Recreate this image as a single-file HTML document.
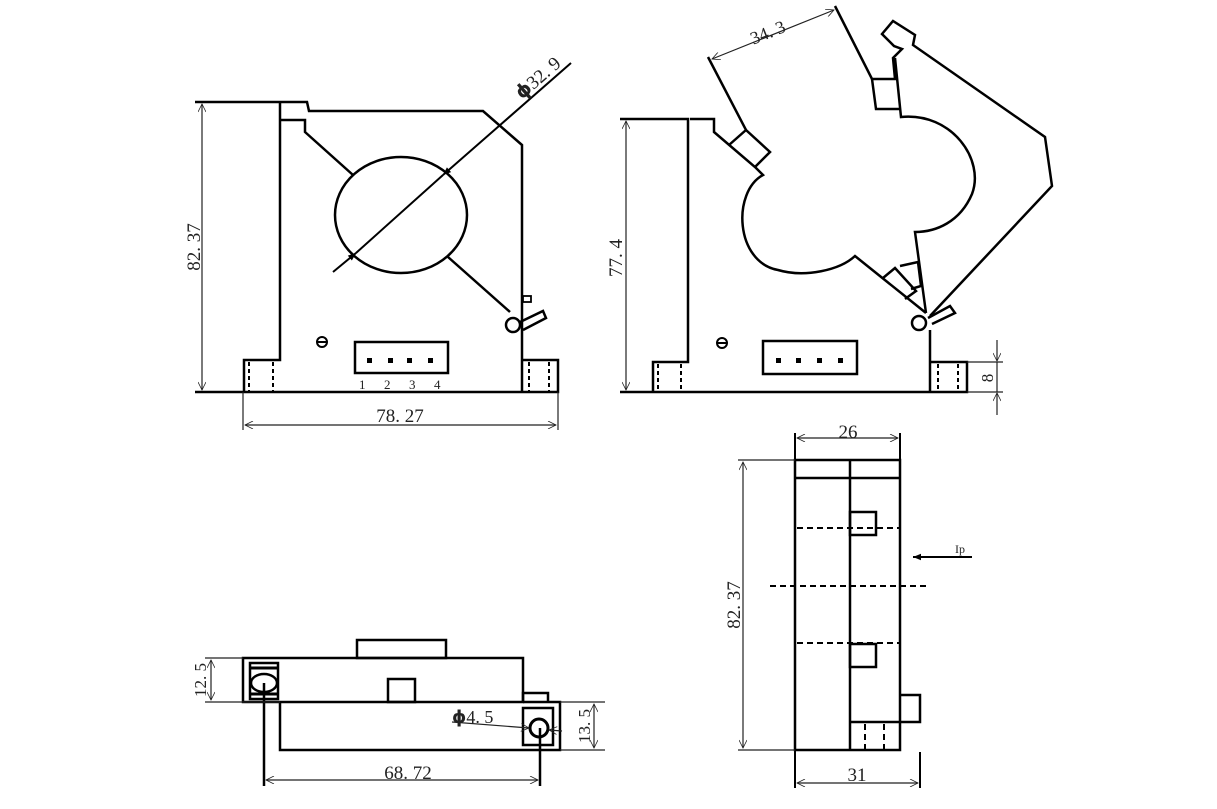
<!DOCTYPE html>
<html><head><meta charset="utf-8"><style>
html,body{margin:0;padding:0;background:#fff}
svg{display:block}
text{font-family:"Liberation Serif","DejaVu Serif",serif;fill:#222}
</style></head><body>
<svg width="1217" height="809" viewBox="0 0 1217 809" xmlns="http://www.w3.org/2000/svg">
<defs>
<marker id="a" viewBox="0 0 10 10" refX="10" refY="5" markerWidth="10" markerHeight="8" orient="auto-start-reverse" markerUnits="userSpaceOnUse">
<path d="M0,0 L10,5 L0,10" fill="none" stroke="#222" stroke-width="1"/></marker>
<marker id="f" viewBox="0 0 10 10" refX="10" refY="5" markerWidth="12" markerHeight="8" orient="auto" markerUnits="userSpaceOnUse">
<path d="M0,1 L10,5 L0,9z" fill="#000"/></marker>
</defs>

<!-- ===== VIEW 1 ===== -->
<g fill="none" stroke="#000" stroke-width="2.5" stroke-linejoin="miter">
<path d="M195,102 H307 L309,111 H483 L522,145 V392"/>
<path d="M280,102 V360 H244 V392"/>
<path d="M195,392 H558 V360 H522"/>
<path d="M280,120 H305 V132 L353,175"/>
<ellipse cx="401" cy="215" rx="66" ry="58"/>
<path d="M448,257 L510,312"/>
<circle cx="513" cy="325" r="7"/>
<path d="M520,322 L543,311 L546,318 L523,330"/>
<rect x="523" y="296" width="8" height="6" stroke-width="1.8"/>
<rect x="355" y="342" width="93" height="31"/>
<circle cx="322" cy="342" r="5" stroke-width="2"/>
</g>
<line x1="317" y1="342" x2="327" y2="342" stroke="#000" stroke-width="2"/>
<g fill="#000"><rect x="367" y="358" width="5" height="5"/><rect x="388" y="358" width="5" height="5"/><rect x="407" y="358" width="5" height="5"/><rect x="428" y="358" width="5" height="5"/></g>
<g stroke="#000" stroke-width="2" stroke-dasharray="4,3"><line x1="249" y1="362" x2="249" y2="392"/><line x1="273" y1="362" x2="273" y2="392"/><line x1="529" y1="362" x2="529" y2="392"/><line x1="549" y1="362" x2="549" y2="392"/></g>
<g font-size="13"><text x="359" y="389">1</text><text x="384" y="389">2</text><text x="409" y="389">3</text><text x="434" y="389">4</text></g>
<!-- dims view1 -->
<g stroke="#222" stroke-width="1.2" fill="none">
<line x1="202" y1="104" x2="202" y2="390" marker-start="url(#a)" marker-end="url(#a)"/>
<line x1="243" y1="392" x2="243" y2="430"/><line x1="558" y1="392" x2="558" y2="430"/>
<line x1="245" y1="425" x2="556" y2="425" marker-start="url(#a)" marker-end="url(#a)"/>
</g>
<line x1="571" y1="63" x2="443" y2="175" stroke="#000" stroke-width="2" marker-end="url(#f)"/>
<line x1="333" y1="272" x2="356" y2="253" stroke="#000" stroke-width="2" marker-end="url(#f)"/>
<line x1="443" y1="175" x2="356" y2="253" stroke="#000" stroke-width="2"/>
<text x="0" y="0" font-size="19" transform="translate(200,247) rotate(-90)" text-anchor="middle">82. 37</text>
<text x="400" y="422" font-size="19" text-anchor="middle">78. 27</text>
<text x="0" y="0" font-size="19" transform="translate(522,100) rotate(-41)"><tspan font-family="DejaVu Sans" font-weight="bold">ϕ</tspan>32. 9</text>

<!-- ===== VIEW 2 ===== -->
<g fill="none" stroke="#000" stroke-width="2.5" stroke-linejoin="miter">
<path d="M620,119 H688 V362 H653 V392"/>
<path d="M620,392 H967 V362 H930"/>
<path d="M690,119 H714 V132 L755,167 L763,175 C732,192 735,262 778,270 C805,278 840,270 855,256 L926,313"/>
<path d="M708,57 L746,130 L770,152 L755,167"/>
<path d="M729,145 L746,130"/>
<path d="M835,6 L872,79 H895 L893,58 L902,49 L894,46 L882,34 L893,21 L915,35 L913,45 L1045,137 L1052,186 L930,316"/>
<path d="M872,79 L876,109 H899"/>
<path d="M895,58 L901,117 C952,112 985,160 972,194 C960,222 936,232 915,232 L926,313"/>
<path d="M883,278 L895,268 L916,291 L905,299"/>
<path d="M900,266 L918,262 L921,286 L911,289"/>
<circle cx="919" cy="323" r="7"/>
<path d="M928,318 L950,306 L955,313 L932,324"/>
<path d="M930,330 V392"/>
<rect x="763" y="341" width="94" height="33"/>
<circle cx="722" cy="343" r="5" stroke-width="2"/>
</g>
<line x1="717" y1="343" x2="727" y2="343" stroke="#000" stroke-width="2"/>
<g fill="#000"><rect x="776" y="358" width="5" height="5"/><rect x="796" y="358" width="5" height="5"/><rect x="817" y="358" width="5" height="5"/><rect x="838" y="358" width="5" height="5"/></g>
<g stroke="#000" stroke-width="2" stroke-dasharray="4,3"><line x1="658" y1="364" x2="658" y2="392"/><line x1="681" y1="364" x2="681" y2="392"/><line x1="938" y1="364" x2="938" y2="392"/><line x1="958" y1="364" x2="958" y2="392"/></g>
<g stroke="#222" stroke-width="1.2" fill="none">
<line x1="626" y1="121" x2="626" y2="390" marker-start="url(#a)" marker-end="url(#a)"/>
<line x1="967" y1="362" x2="1003" y2="362"/><line x1="967" y1="392" x2="1003" y2="392"/>
<line x1="997" y1="340" x2="997" y2="361" marker-end="url(#a)"/>
<line x1="997" y1="415" x2="997" y2="393" marker-end="url(#a)"/>
<line x1="997" y1="362" x2="997" y2="392"/>
<line x1="712" y1="59" x2="834" y2="10" marker-start="url(#a)" marker-end="url(#a)"/>
</g>
<text x="0" y="0" font-size="19" transform="translate(622,258) rotate(-90)" text-anchor="middle">77. 4</text>
<text x="0" y="0" font-size="17" transform="translate(993,378) rotate(-90)" text-anchor="middle">8</text>
<text x="0" y="0" font-size="18" transform="translate(770,38) rotate(-22)" text-anchor="middle">34. 3</text>

<!-- ===== VIEW 3 (bottom) ===== -->
<g fill="none" stroke="#000" stroke-width="2.5">
<rect x="243" y="658" width="280" height="44"/>
<rect x="357" y="640" width="89" height="18"/>
<rect x="388" y="679" width="27" height="23"/>
<path d="M280,702 V750 H560 V702 H523"/>
<path d="M523,702 V693 H548 V702"/>
<rect x="250" y="663" width="28" height="36"/>
<ellipse cx="264" cy="683" rx="13" ry="9"/>
<rect x="523" y="708" width="30" height="37"/>
<circle cx="539" cy="728" r="9" stroke-width="3"/>
<line x1="264" y1="683" x2="264" y2="786"/>
<line x1="540" y1="728" x2="540" y2="786"/>
</g>
<path d="M251,668 H278 M251,694 H278" stroke="#000" stroke-width="3"/>
<g stroke="#222" stroke-width="1.2" fill="none">
<line x1="266" y1="780" x2="538" y2="780" marker-start="url(#a)" marker-end="url(#a)"/>
<line x1="205" y1="658" x2="243" y2="658"/><line x1="205" y1="702" x2="280" y2="702"/>
<line x1="211" y1="660" x2="211" y2="700" marker-start="url(#a)" marker-end="url(#a)"/>
<line x1="560" y1="702" x2="605" y2="702"/><line x1="560" y1="750" x2="605" y2="750"/>
<line x1="594" y1="704" x2="594" y2="748" marker-start="url(#a)" marker-end="url(#a)"/>
<line x1="452" y1="722" x2="529" y2="728" marker-end="url(#a)"/>
<line x1="562" y1="731" x2="549" y2="730" marker-end="url(#a)"/>
</g>
<text x="408" y="779" font-size="19" text-anchor="middle">68. 72</text>
<text x="0" y="0" font-size="17" transform="translate(206,680) rotate(-90)" text-anchor="middle">12. 5</text>
<text x="0" y="0" font-size="17" transform="translate(590,726) rotate(-90)" text-anchor="middle">13. 5</text>
<text x="452" y="723" font-size="18"><tspan font-family="DejaVu Sans" font-weight="bold">ϕ</tspan>4. 5</text>

<!-- ===== VIEW 4 (side) ===== -->
<g fill="none" stroke="#000" stroke-width="2.5">
<rect x="795" y="460" width="105" height="290"/>
<line x1="795" y1="478" x2="900" y2="478"/>
<line x1="850" y1="460" x2="850" y2="750"/>
<rect x="850" y="512" width="26" height="23"/>
<rect x="850" y="644" width="26" height="23"/>
<path d="M900,695 H920 V722 H900"/>
<line x1="850" y1="722" x2="900" y2="722"/>
<line x1="795" y1="433" x2="795" y2="460" stroke-width="2"/>
<line x1="900" y1="433" x2="900" y2="460" stroke-width="2"/>
<line x1="795" y1="750" x2="795" y2="788" stroke-width="2"/>
<line x1="920" y1="752" x2="920" y2="788" stroke-width="2"/>
</g>
<g stroke="#000" stroke-width="2" stroke-dasharray="6,4">
<line x1="797" y1="528" x2="900" y2="528"/>
<line x1="797" y1="643" x2="900" y2="643"/>
<line x1="770" y1="586" x2="926" y2="586"/>
<line x1="865" y1="724" x2="865" y2="750"/>
<line x1="884" y1="724" x2="884" y2="750"/>
</g>
<g stroke="#222" stroke-width="1.2" fill="none">
<line x1="797" y1="438" x2="898" y2="438" marker-start="url(#a)" marker-end="url(#a)"/>
<line x1="797" y1="783" x2="918" y2="783" marker-start="url(#a)" marker-end="url(#a)"/>
<line x1="738" y1="460" x2="795" y2="460"/><line x1="738" y1="750" x2="795" y2="750"/>
<line x1="743" y1="462" x2="743" y2="748" marker-start="url(#a)" marker-end="url(#a)"/>
</g>
<line x1="972" y1="557" x2="913" y2="557" stroke="#000" stroke-width="2" marker-end="url(#f)"/>
<text x="955" y="553" font-size="12">Ip</text>
<text x="848" y="438" font-size="19" text-anchor="middle">26</text>
<text x="857" y="781" font-size="19" text-anchor="middle">31</text>
<text x="0" y="0" font-size="19" transform="translate(740,605) rotate(-90)" text-anchor="middle">82. 37</text>
</svg>
</body></html>
